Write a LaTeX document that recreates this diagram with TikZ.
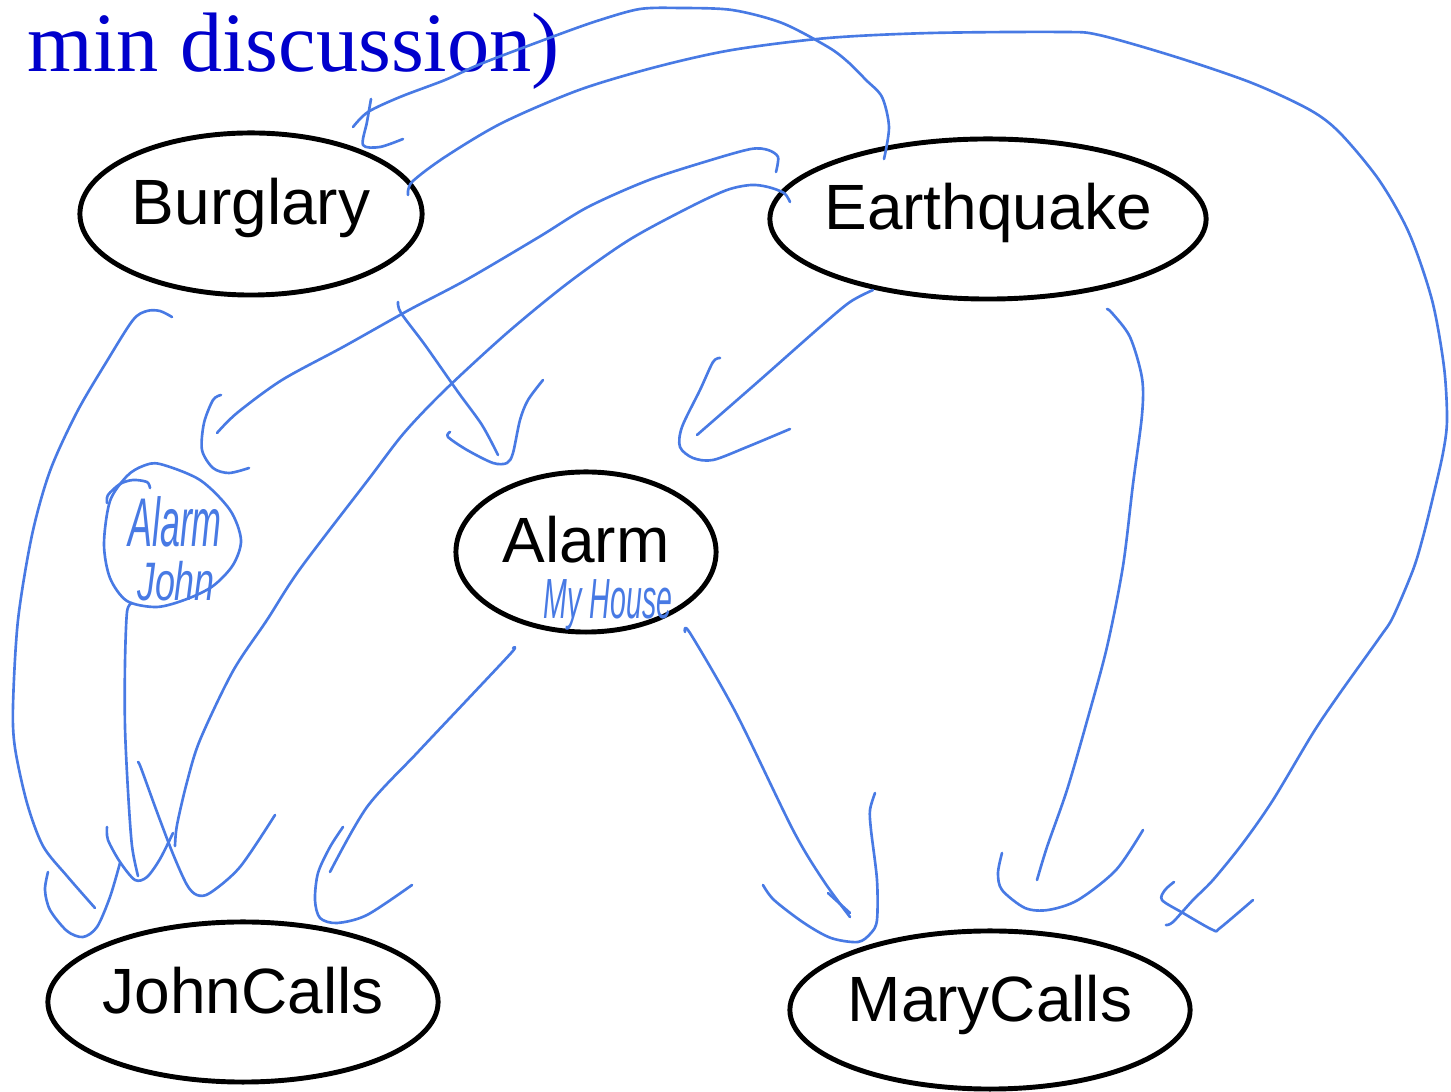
\documentclass[tikz,border=0pt]{standalone}
\usepackage{fontspec}
\setmainfont{Liberation Sans}
\newfontfamily\titlefont{Liberation Serif}
\usepackage{xcolor}
\usetikzlibrary{shapes.geometric}
\definecolor{penblue}{RGB}{72,122,228}
\definecolor{titleblue}{RGB}{0,0,204}

\begin{document}
\begin{tikzpicture}[
        x=0.01cm, y=-0.01cm,
        bnnode/.style={draw, ellipse, line width=1.4pt, inner sep=0pt,
            text height=0.5cm, text depth=0.28cm, font=\fontsize{18.2}{20}\selectfont},
        ink/.style={penblue, line width=0.75pt, line cap=round, line join=round},
        scrawl/.style={text=penblue, inner sep=0pt, font=\fontsize{14}{16}\selectfont\itshape},
    ]
        \useasboundingbox (0,0) rectangle (1451,1092);

        \node[anchor=base west, inner sep=0pt, text=titleblue, font=\titlefont\fontsize{24}{28}\selectfont] (title) at (27,72) {min discussion)};

        \node[bnnode, minimum width=3.42cm, minimum height=1.62cm] (burglary) at (251,214) {\makebox[0pt]{Burglary}};
        \node[bnnode, minimum width=4.36cm, minimum height=1.60cm] (earthquake) at (988,219) {\makebox[0pt]{Earthquake}};
        \node[bnnode, minimum width=2.60cm, minimum height=1.60cm] (alarm) at (586,552) {\makebox[0pt]{Alarm}};
        \node[bnnode, minimum width=3.90cm, minimum height=1.60cm] (johncalls) at (243,1002) {\makebox[0pt]{JohnCalls}};
        \node[bnnode, minimum width=4.00cm, minimum height=1.58cm] (marycalls) at (990,1010) {\makebox[0pt]{MaryCalls}};

        \draw[ink] plot[smooth] coordinates {(884,159) (889,127) (882,97) (866,80) (848,62) (828,47) (782,23) (732,10) (680,8) (640,9) (600,20) (560,34) (483,63) (445,80) (400,97) (368,112) (353,127)};
        \draw[ink] plot[smooth] coordinates {(371,99) (367,122) (363,145) (380,147) (403,139)};

        \draw[ink] plot[smooth] coordinates {(408,195) (412,182) (445,157) (502,123) (579,90) (656,67) (732,50) (828,38) (931,33) (1061,32) (1099,35) (1176,57) (1252,83) (1310,110) (1340,133) (1379,180) (1409,233) (1432,300) (1444,367) (1447,420) (1443,453) (1433,497) (1423,537) (1413,570) (1393,617) (1380,637) (1340,693) (1313,733) (1273,800) (1243,843) (1213,880) (1193,900) (1173,922) (1166,925)};
        \draw[ink] plot[smooth] coordinates {(1174,882) (1165,890) (1162,900) (1183,913) (1213,930) (1220,928) (1253,900)};

        \draw[ink] plot[smooth] coordinates {(776,172) (778,157) (768,150) (751,149) (711,160) (649,180) (588,207) (539,237) (466,280) (409,310) (343,347) (282,380) (237,413) (217,433)};
        \draw[ink] plot[smooth] coordinates {(221,395) (213,400) (204,423) (202,450) (213,468) (229,473) (249,468)};

        \draw[ink] plot[smooth] coordinates {(790,202) (784,193) (768,187) (751,185) (727,190) (690,207) (629,240) (568,283) (507,333) (445,390) (404,433) (368,480) (300,569) (267,620) (233,671) (200,740) (187,782) (177,825) (175,846)};

        \draw[ink] plot[smooth] coordinates {(398,302) (401,313) (425,345) (458,392) (482,425) (498,455)};
        \draw[ink] plot[smooth] coordinates {(450,432) (448,437) (467,450) (493,463) (507,463) (513,453) (520,420) (528,400) (543,380)};

        \draw[ink] plot[smooth] coordinates {(873,290) (850,302) (820,327) (760,380) (697,435)};
        \draw[ink] plot[smooth] coordinates {(720,358) (713,362) (700,390) (682,427) (680,447) (693,458) (713,460) (747,447) (790,429)};

        \draw[ink] plot[smooth] coordinates {(172,317) (160,311) (147,311) (133,320) (107,361) (77,412) (50,471) (32,535) (18,620) (13,706) (15,748) (27,803) (43,846) (67,876) (95,908)};
        \draw[ink] plot[smooth] coordinates {(48,872) (45,890) (50,910) (67,931) (83,937) (97,927) (110,897) (120,863)};

        \draw[ink] plot[smooth cycle] coordinates {(160,464) (200,480) (230,510) (241,540) (233,565) (213,586) (187,599) (157,607) (127,601) (110,578) (104,544) (110,501) (127,476) (143,466)};
        \draw[ink] plot[smooth] coordinates {(107,503) (108,495) (120,484) (133,480) (147,482) (150,488)};
        \node[scrawl, anchor=base] (alarmnote) at (175,547) {\scalebox{0.73}[1.4]{Alarm}};
        \node[scrawl, anchor=base] (johnnote) at (176,601) {\scalebox{0.73}[1.1]{John}};

        \draw[ink] plot[smooth] coordinates {(132,603) (127,612) (125,663) (125,727) (128,791) (132,846) (138,876)};
        \draw[ink] plot[smooth] coordinates {(107,827) (108,840) (120,862) (135,880) (147,877) (160,859) (173,833)};
        \draw[ink] plot[smooth] coordinates {(138,762) (141,768) (157,812) (173,854) (187,885) (197,895) (210,893) (240,867) (275,815)};

        \draw[ink] plot[smooth] coordinates {(513,648) (512,652) (467,700) (417,753) (367,807) (330,872)};
        \draw[ink] plot[smooth] coordinates {(343,827) (330,847) (318,873) (315,900) (320,918) (337,923) (367,915) (412,885)};

        \node[scrawl, anchor=base] (housenote) at (608,619) {\scalebox{0.58}[1.15]{My House}};
        \draw[ink] plot[smooth] coordinates {(685,632) (690,633) (736,713) (793,830) (823,880) (850,917)};
        \draw[ink] (828,893) -- (850,913);
        \draw[ink] plot[smooth] coordinates {(763,885) (774,900) (804,923) (831,938) (858,942) (871,933) (877,920) (877,880) (871,830) (870,810) (875,793)};

        \draw[ink] plot[smooth] coordinates {(1107,309) (1112,313) (1130,337) (1142,378) (1142,415) (1133,484) (1123,566) (1107,647) (1087,721) (1067,790) (1047,847) (1037,880)};
        \draw[ink] plot[smooth] coordinates {(1002,853) (998,873) (1002,890) (1025,908) (1048,910) (1078,900) (1116,870) (1143,830)};
    \end{tikzpicture}
\end{document}
